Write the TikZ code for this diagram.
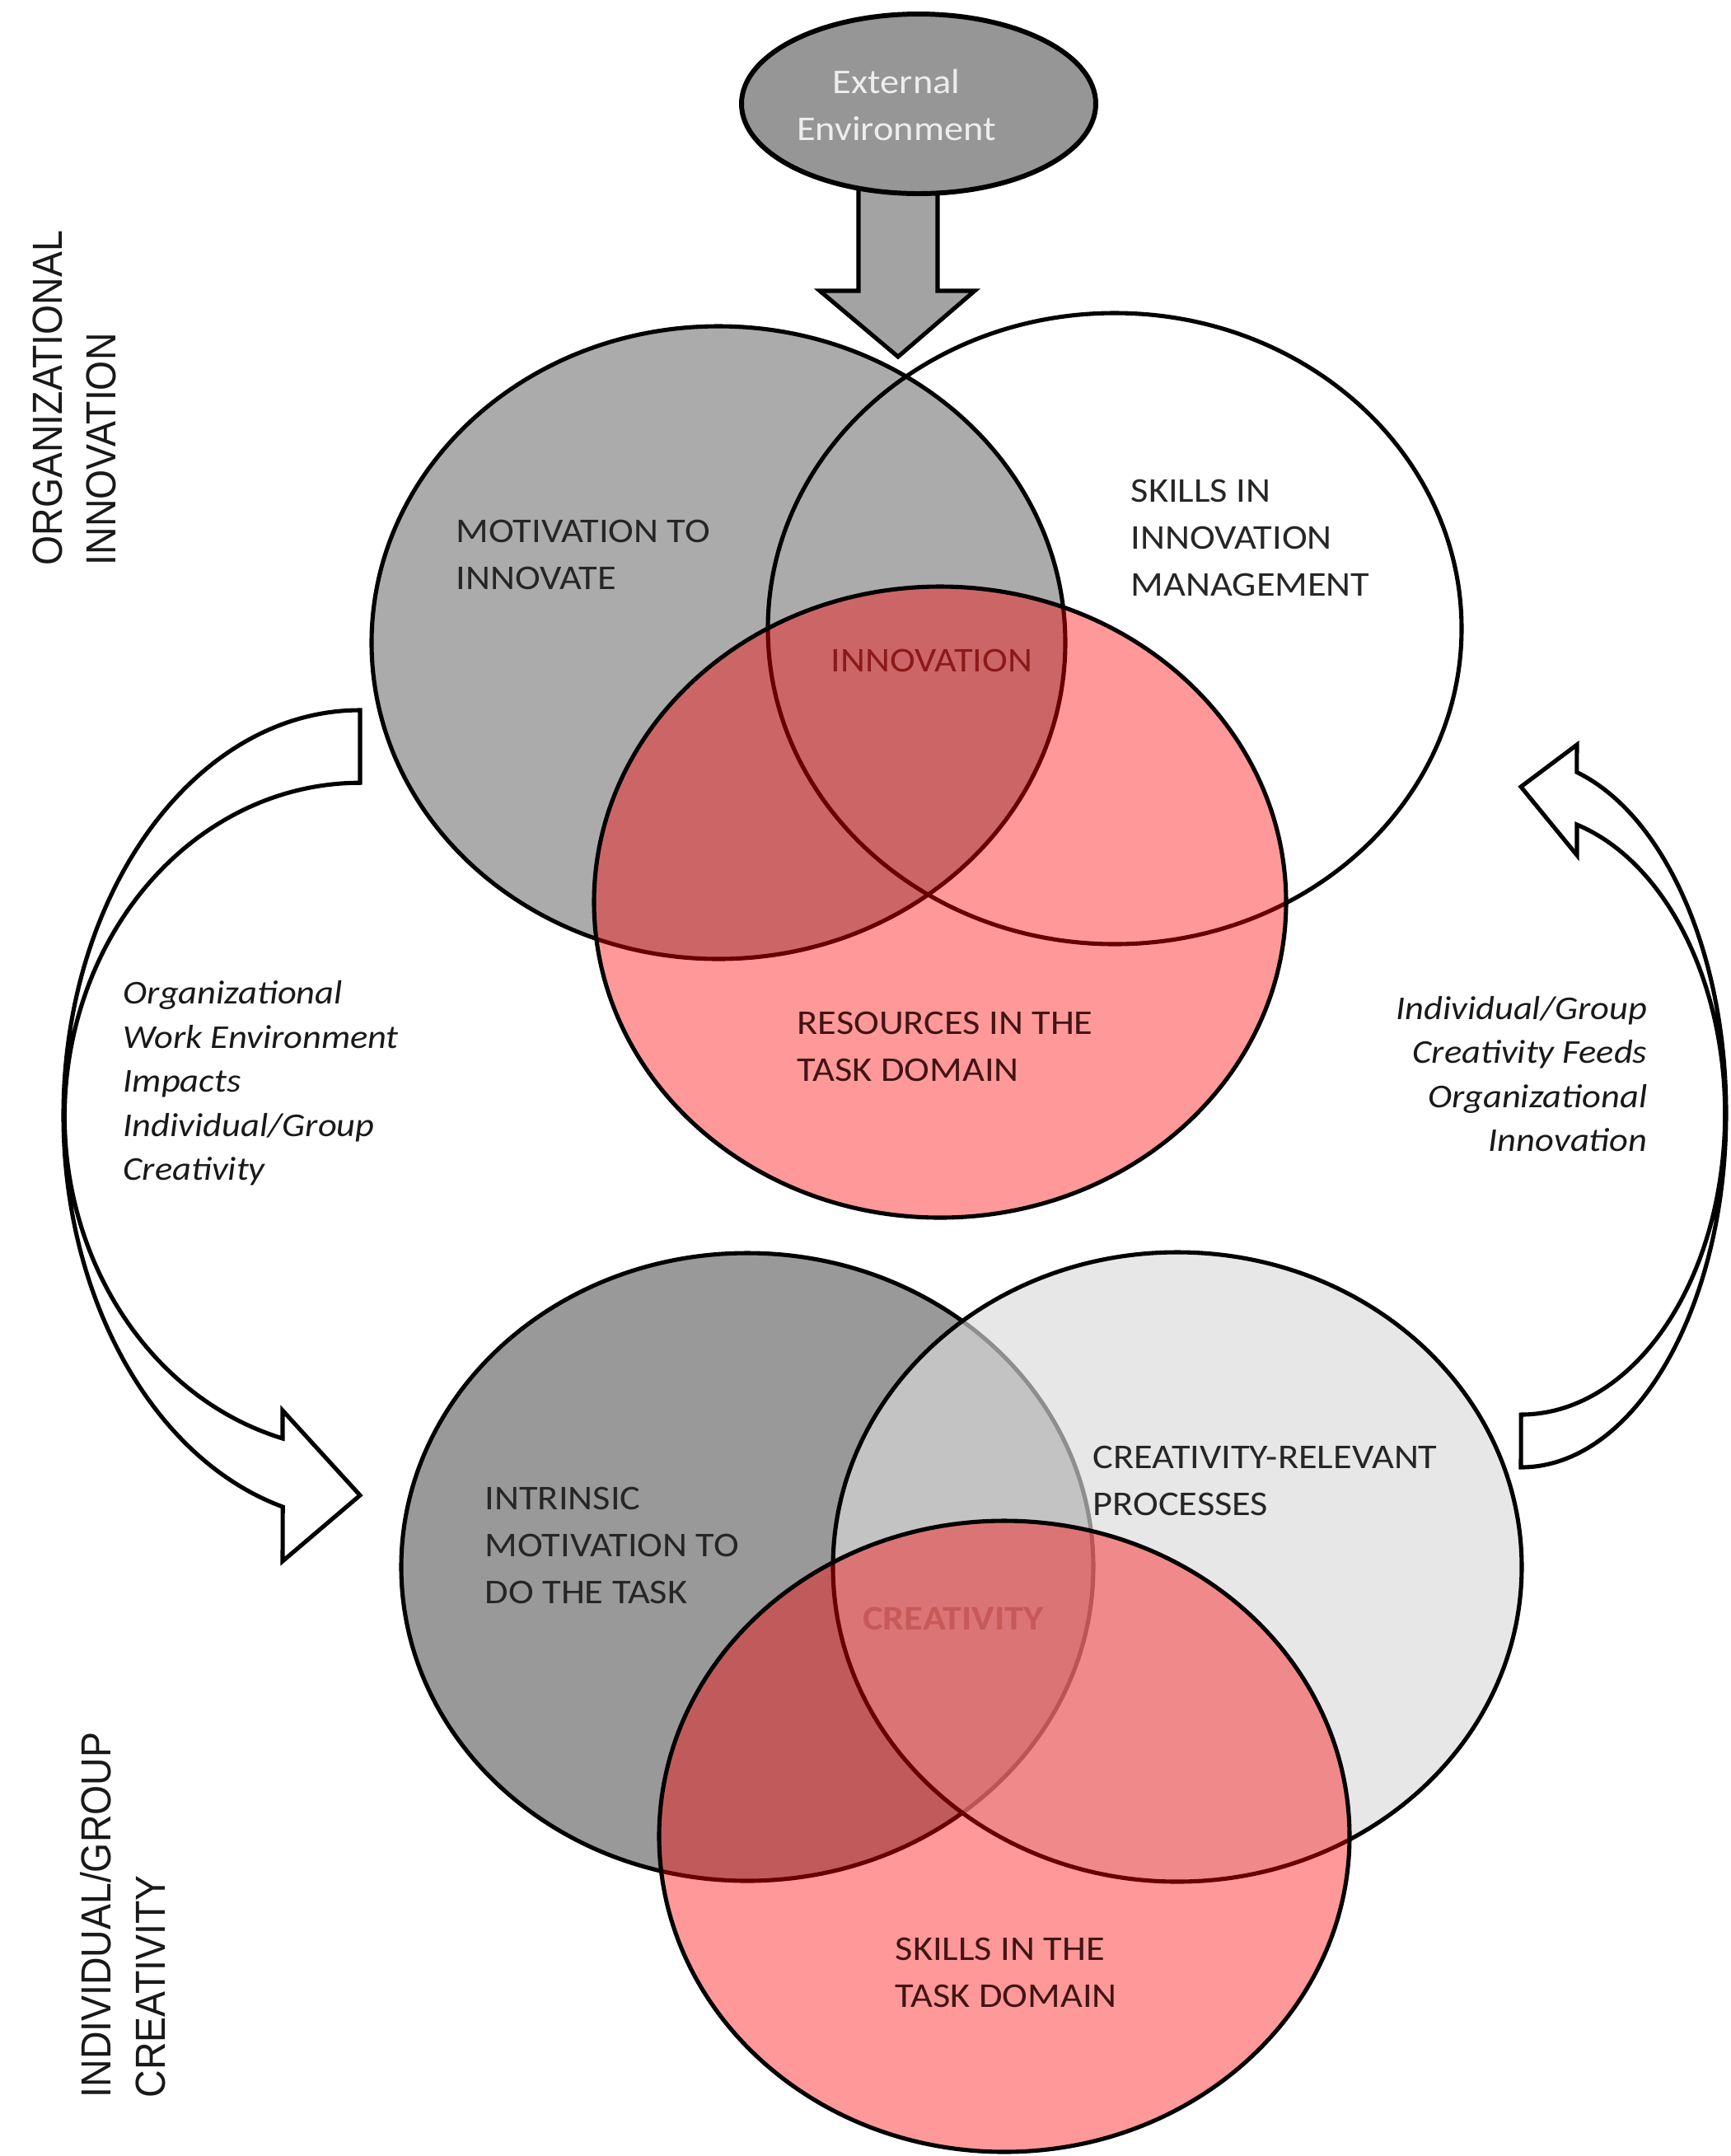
\documentclass[tikz,border=0pt]{standalone}
\usepackage{fontspec}
\usepackage{graphicx}
\setmainfont{Carlito}
\newfontfamily\arialfam{Liberation Sans}
\usetikzlibrary{shapes.geometric,calc}
\definecolor{txtdark}{gray}{0.15}
\definecolor{innored}{rgb}{0.55,0.10,0.10}
\definecolor{domred}{rgb}{0.26,0.08,0.08}
\definecolor{crered}{rgb}{0.78,0.35,0.35}
\definecolor{envgray}{gray}{0.59}
\definecolor{arrgray}{gray}{0.64}
\newcommand{\wtab}[2]{\scalebox{1.1}[1]{\begin{tabular}{@{}#1@{}}#2\end{tabular}}}
\newcommand{\vtab}[1]{\scalebox{1}[1.1]{\begin{tabular}{@{}l@{}}#1\end{tabular}}}
\begin{document}
\begin{tikzpicture}[
  lbl/.style={inner sep=0pt, text=txtdark, font=\fontsize{12}{16.2}\selectfont},
  ital/.style={inner sep=0pt, text=black!90, font=\fontsize{11.5}{15.2}\selectfont\itshape},
  side/.style={inner sep=0pt, rotate=90, anchor=north west, text=black!90, font=\arialfam\fontsize{13.2}{17}\selectfont},
  ring/.style={draw=black, line width=1.45pt},
  blockarrow/.style={draw=black, line width=1.45pt, line join=miter, miter limit=10}
]
\useasboundingbox (0,0) rectangle (21,-26.17);
\fill[white] (0,0) rectangle (21,-26.17);

% ---------- top Venn: organizational innovation ----------
\path[ring, fill=white] (13.53,-7.63) ellipse [x radius=4.21, y radius=3.83];
\path[ring, fill=black, fill opacity=0.33] (8.72,-7.80) ellipse [x radius=4.21, y radius=3.84];
\path[ring, fill=red, fill opacity=0.4] (11.41,-10.95) ellipse [x radius=4.20, y radius=3.83];

% ---------- bottom Venn: individual/group creativity ----------
\path[ring, fill=black, fill opacity=0.40] (9.07,-19.02) ellipse [x radius=4.20, y radius=3.81];
\path[ring, fill=black!14, fill opacity=0.65] (14.29,-19.02) ellipse [x radius=4.18, y radius=3.82];
\path[ring, fill=red, fill opacity=0.4] (12.19,-22.29) ellipse [x radius=4.19, y radius=3.83];

% ---------- external environment ----------
\path[blockarrow, fill=arrgray] (10.42,-2.15) -- (10.42,-3.53) -- (9.95,-3.53) -- (10.90,-4.33)
  -- (11.83,-3.53) -- (11.38,-3.53) -- (11.38,-2.15) -- cycle;
\node[ellipse, draw=black, line width=1.7pt, fill=envgray, minimum width=4.3cm,
  minimum height=2.18cm, inner sep=0pt] (env) at (11.15,-1.26) {};
\node[inner sep=0pt, text=white!93!black, font=\fontsize{12}{16.2}\selectfont] (envtxt)
  at (10.88,-1.31) {\wtab{c}{External\\Environment}};

% ---------- curved block arrows ----------
\path[blockarrow, fill=white] (4.37,-8.62)
  arc[start angle=90, end angle=254.9, x radius=3.60, y radius=4.92]
  -- (3.43,-18.95) -- (4.37,-18.15) -- (3.43,-17.12) -- (3.43,-17.46)
  arc[start angle=254.8, end angle=90, x radius=3.585, y radius=4.05] -- cycle;
\path[blockarrow, fill=white] (18.46,-17.81)
  arc[start angle=-90, end angle=74.2, x radius=2.49, y radius=4.30]
  -- (19.14,-9.04) -- (18.46,-9.55) -- (19.14,-10.38) -- (19.14,-10.01)
  arc[start angle=74.1, end angle=-90, x radius=2.475, y radius=3.65] -- cycle;

% ---------- labels ----------
\node[side] (orglbl) at (0.285,-6.87) {\vtab{ORGANIZATIONAL\\INNOVATION}};
\node[side] (indlbl) at (0.88,-25.47) {\vtab{INDIVIDUAL/GROUP\\CREATIVITY}};

\node[lbl, anchor=west] (motiv) at (5.53,-6.76) {\wtab{l}{MOTIVATION TO\\INNOVATE}};
\node[lbl, anchor=west] (skillsinno) at (13.72,-6.55) {\wtab{l}{SKILLS IN\\INNOVATION\\MANAGEMENT}};
\node[lbl, text=innored] (innov) at (11.31,-8.04) {\wtab{c}{INNOVATION}};
\node[lbl, anchor=west, text=domred] (resources) at (9.67,-12.73) {\wtab{l}{RESOURCES IN THE\\TASK DOMAIN}};

\node[lbl, anchor=west] (intrinsic) at (5.88,-18.78) {\wtab{l}{INTRINSIC\\MOTIVATION TO\\DO THE TASK}};
\node[lbl, anchor=west] (crelev) at (13.26,-18.00) {\wtab{l}{CREATIVITY-RELEVANT\\PROCESSES}};
\node[lbl, text=crered, font=\fontsize{12}{16.2}\selectfont\bfseries] (creat) at (11.57,-19.67) {\wtab{c}{CREATIVITY}};
\node[lbl, anchor=west, text=domred] (skillstask) at (10.86,-23.97) {\wtab{l}{SKILLS IN THE\\TASK DOMAIN}};

\node[ital, anchor=west] (leftcap) at (1.49,-13.15)
  {\wtab{l}{Organizational\\Work Environment\\Impacts\\Individual/Group\\Creativity}};
\node[ital, anchor=east] (rightcap) at (20.00,-13.07)
  {\wtab{r}{Individual/Group\\Creativity Feeds\\Organizational\\Innovation}};
\end{tikzpicture}
\end{document}
